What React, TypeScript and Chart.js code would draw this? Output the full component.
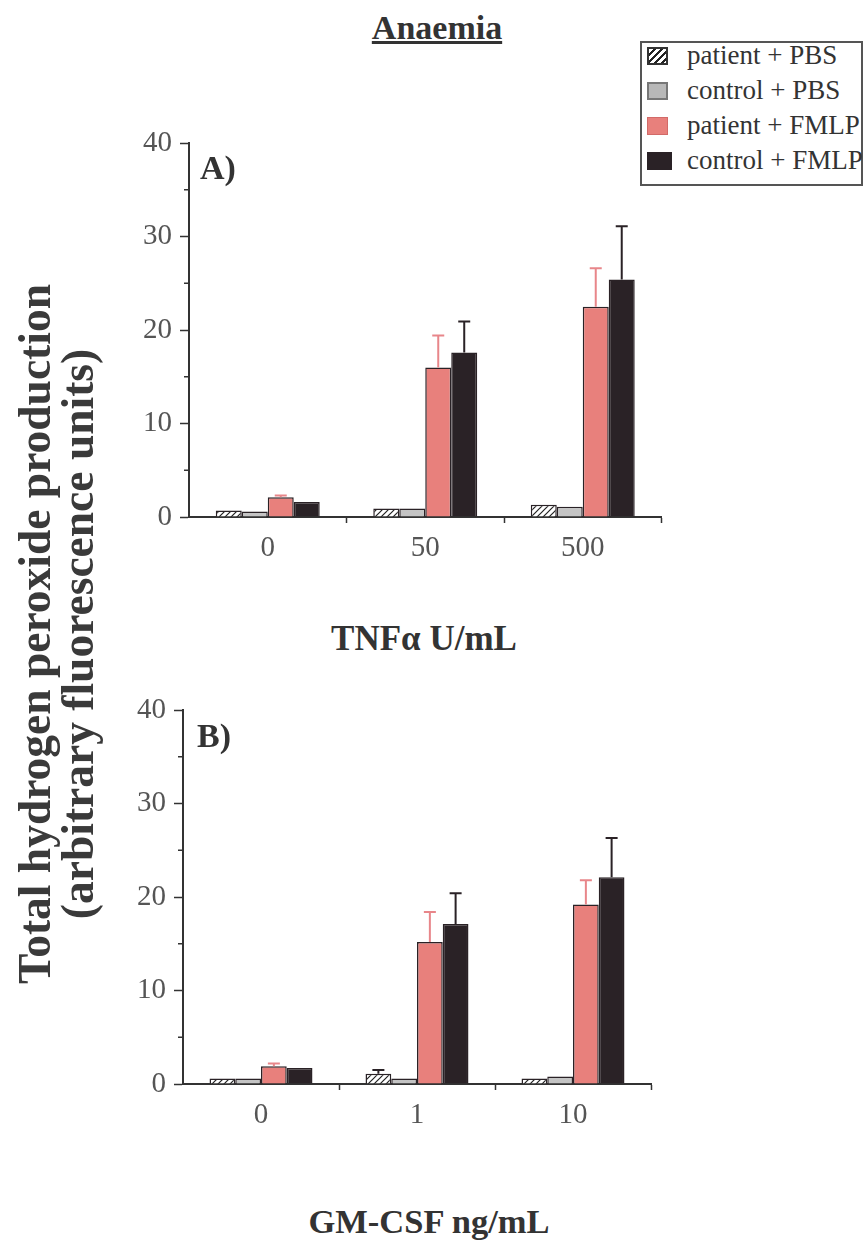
import { useEffect, useRef } from 'react';
import { Chart, registerables } from 'chart.js';
Chart.register(...registerables);

const seriesLabels = ['patient + PBS', 'control + PBS', 'patient + FMLP', 'control + FMLP'];
const yTicks = [0, 10, 20, 30, 40];
const yMinorTicks = [5, 15, 25, 35];

// Panel A: TNFα
const categoriesA = ['0', '50', '500'];
const patientPBS_A = [0.7, 0.9, 1.3];
const controlPBS_A = [0.6, 0.9, 1.1];
const patientFMLP_A = [2.1, 16.0, 22.5];
const controlFMLP_A = [1.6, 17.6, 25.4];
const patientPBSErr_A = [0, 0, 0];
const controlPBSErr_A = [0, 0, 0];
const patientFMLPErr_A = [0.2, 3.4, 4.1];
const controlFMLPErr_A = [0, 3.3, 5.7];

// Panel B: GM-CSF
const categoriesB = ['0', '1', '10'];
const patientPBS_B = [0.6, 1.1, 0.6];
const controlPBS_B = [0.6, 0.6, 0.8];
const patientFMLP_B = [1.9, 15.2, 19.2];
const controlFMLP_B = [1.7, 17.1, 22.1];
const patientPBSErr_B = [0, 0.4, 0];
const controlPBSErr_B = [0, 0, 0];
const patientFMLPErr_B = [0.3, 3.2, 2.6];
const controlFMLPErr_B = [0, 3.3, 4.2];

const PINK = '#e8807c';
const PINK_ERR = '#e8868a';
const DARK = '#2a2226';
const GRAY = '#c4c4c4';
const AXIS = '#333333';
const SERIF = "'Liberation Serif', 'Times New Roman', serif";

function makeHatch(): CanvasPattern | string {
  const c = document.createElement('canvas');
  c.width = 6;
  c.height = 6;
  const g = c.getContext('2d');
  if (!g) return '#fff';
  g.fillStyle = '#ffffff';
  g.fillRect(0, 0, 6, 6);
  g.strokeStyle = '#222';
  g.lineWidth = 1.2;
  g.beginPath();
  g.moveTo(0, 6); g.lineTo(6, 0);
  g.moveTo(-1, 1); g.lineTo(1, -1);
  g.moveTo(5, 7); g.lineTo(7, 5);
  g.stroke();
  const p = g.createPattern(c, 'repeat');
  return p || '#fff';
}

type PanelProps = {
  left: number; top: number; width: number; height: number;
  areaLeft: number; areaRight: number; areaTop: number; areaBottom: number;
  categories: string[];
  values: number[][];
  errors: number[][];
};

function Panel(p: PanelProps) {
  const ref = useRef<HTMLCanvasElement | null>(null);
  useEffect(() => {
    if (!ref.current) return;
    const hatch = makeHatch();
    const fills: any[] = [hatch, GRAY, PINK, DARK];
    const errColors = [DARK, DARK, PINK_ERR, DARK];
    const xAxisHeight = 40;
    const errorPlugin = {
      id: 'errbars',
      afterDatasetsDraw(chart: any) {
        const ctx = chart.ctx;
        const ys = chart.scales.y;
        chart.data.datasets.forEach((ds: any, di: number) => {
          const meta = chart.getDatasetMeta(di);
          const errs = p.errors[di];
          meta.data.forEach((el: any, i: number) => {
            const e = errs[i];
            if (!e) return;
            const yTop = ys.getPixelForValue(ds.data[i]);
            const yErr = ys.getPixelForValue(ds.data[i] + e);
            ctx.save();
            ctx.strokeStyle = errColors[di];
            ctx.lineWidth = 2;
            ctx.beginPath();
            ctx.moveTo(el.x, yTop);
            ctx.lineTo(el.x, yErr);
            ctx.moveTo(el.x - 6, yErr);
            ctx.lineTo(el.x + 6, yErr);
            ctx.stroke();
            ctx.restore();
          });
        });
      },
    };
    const minorPlugin = {
      id: 'minorTicks',
      afterDraw(chart: any) {
        const ctx = chart.ctx;
        const ys = chart.scales.y;
        ctx.save();
        ctx.strokeStyle = AXIS;
        ctx.lineWidth = 1.5;
        ctx.beginPath();
        yMinorTicks.forEach((v) => {
          const y = ys.getPixelForValue(v);
          ctx.moveTo(ys.right - 5, y);
          ctx.lineTo(ys.right, y);
        });
        ctx.stroke();
        ctx.restore();
      },
    };
    const chart = new Chart(ref.current, {
      type: 'bar',
      data: {
        labels: p.categories,
        datasets: p.values.map((vals, i) => ({
          label: seriesLabels[i],
          data: vals,
          backgroundColor: fills[i],
          borderColor: DARK,
          borderWidth: 1.5,
          borderSkipped: 'bottom',
          categoryPercentage: 0.66,
          barPercentage: 1.0,
        })),
      },
      options: {
        responsive: false,
        animation: false,
        devicePixelRatio: 1,
        layout: {
          padding: {
            left: 0,
            top: p.areaTop,
            right: p.width - p.areaRight,
            bottom: p.height - p.areaBottom - xAxisHeight,
          },
        },
        plugins: {
          legend: { display: false },
          tooltip: { enabled: false },
          title: { display: false },
        },
        scales: {
          x: {
            offset: true,
            grid: {
              offset: true,
              drawOnChartArea: false,
              drawTicks: true,
              tickLength: 6,
              tickWidth: 1.5,
              tickColor: (c: any) => (c.index === 0 || c.index === p.categories.length ? 'rgba(0,0,0,0)' : AXIS),
            },
            border: { display: true, color: AXIS, width: 2 },
            ticks: {
              color: '#555',
              padding: 8,
              font: { family: SERIF, size: 29 },
              maxRotation: 0,
            },
            afterFit: (s: any) => { s.height = xAxisHeight; },
          },
          y: {
            min: 0,
            max: 40,
            afterBuildTicks: (s: any) => { s.ticks = yTicks.map((v) => ({ value: v })); },
            grid: {
              drawOnChartArea: false,
              drawTicks: true,
              tickLength: 9,
              tickWidth: 1.5,
              tickColor: AXIS,
            },
            border: { display: true, color: AXIS, width: 2 },
            ticks: {
              color: '#555',
              padding: 8,
              font: { family: SERIF, size: 29 },
            },
            afterFit: (s: any) => { s.width = p.areaLeft; },
          },
        },
      },
      plugins: [errorPlugin, minorPlugin],
    } as any);
    return () => chart.destroy();
  }, []);
  return (
    <canvas
      ref={ref}
      width={p.width}
      height={p.height}
      style={{ position: 'absolute', left: p.left, top: p.top, width: p.width, height: p.height }}
    />
  );
}

const text = (extra: any) => ({
  position: 'absolute' as const,
  fontFamily: SERIF,
  color: '#333',
  whiteSpace: 'nowrap' as const,
  ...extra,
});

function LegendRow({ top, label, swatch }: { top: number; label: string; swatch: any }) {
  return (
    <>
      <div style={{ position: 'absolute', left: 647, top, width: 21, height: 18, boxSizing: 'border-box', ...swatch }} />
      <div style={text({ left: 687, top: top - 5, fontSize: 27, lineHeight: '27px' })}>{label}</div>
    </>
  );
}

export default function App() {
  return (
    <div style={{ position: 'absolute', left: 0, top: 0, width: 866, height: 1251, background: '#fff', overflow: 'hidden' }}>
      <div style={text({ left: 237, width: 400, textAlign: 'center', top: 11, fontSize: 34, lineHeight: '34px', fontWeight: 'bold', textDecoration: 'underline' })}>Anaemia</div>

      <div style={{ position: 'absolute', left: 640, top: 41, width: 223, height: 145, border: '2px solid #555', boxSizing: 'border-box' }} />
      <LegendRow top={47} label={seriesLabels[0]} swatch={{ border: '2px solid #333', background: 'repeating-linear-gradient(135deg, #fff 0px, #fff 3px, #222 3px, #222 5px)' }} />
      <LegendRow top={82} label={seriesLabels[1]} swatch={{ border: '2px solid #777', background: '#b8b8b8' }} />
      <LegendRow top={117} label={seriesLabels[2]} swatch={{ border: '1px solid #d26a68', background: PINK }} />
      <LegendRow top={152} label={seriesLabels[3]} swatch={{ background: DARK, width: 25 }} />

      <Panel
        left={0} top={100} width={700} height={480}
        areaLeft={189} areaRight={661.5} areaTop={43} areaBottom={417}
        categories={categoriesA}
        values={[patientPBS_A, controlPBS_A, patientFMLP_A, controlFMLP_A]}
        errors={[patientPBSErr_A, controlPBSErr_A, patientFMLPErr_A, controlFMLPErr_A]}
      />
      <Panel
        left={0} top={660} width={700} height={480}
        areaLeft={183} areaRight={651} areaTop={50} areaBottom={424}
        categories={categoriesB}
        values={[patientPBS_B, controlPBS_B, patientFMLP_B, controlFMLP_B]}
        errors={[patientPBSErr_B, controlPBSErr_B, patientFMLPErr_B, controlFMLPErr_B]}
      />

      <div style={text({ left: 200, top: 151, fontSize: 34, lineHeight: '34px', fontWeight: 'bold' })}>A)</div>
      <div style={text({ left: 197, top: 719, fontSize: 34, lineHeight: '34px', fontWeight: 'bold' })}>B)</div>

      <div style={text({ left: 224, width: 400, textAlign: 'center', top: 621, fontSize: 35, lineHeight: '35px', fontWeight: 'bold' })}>TNFα U/mL</div>
      <div style={text({ left: 229, width: 400, textAlign: 'center', top: 1204, fontSize: 34.5, lineHeight: '34.5px', fontWeight: 'bold' })}>GM-CSF ng/mL</div>

      <div style={text({ left: 56 - 400, top: 634 - 43, width: 800, height: 86, textAlign: 'center', fontSize: 45.5, lineHeight: '43px', fontWeight: 'bold', color: '#3a3a3a', transform: 'rotate(-90deg)', transformOrigin: '50% 50%' })}>
        Total hydrogen peroxide production<br />(arbitrary fluorescence units)
      </div>
    </div>
  );
}
